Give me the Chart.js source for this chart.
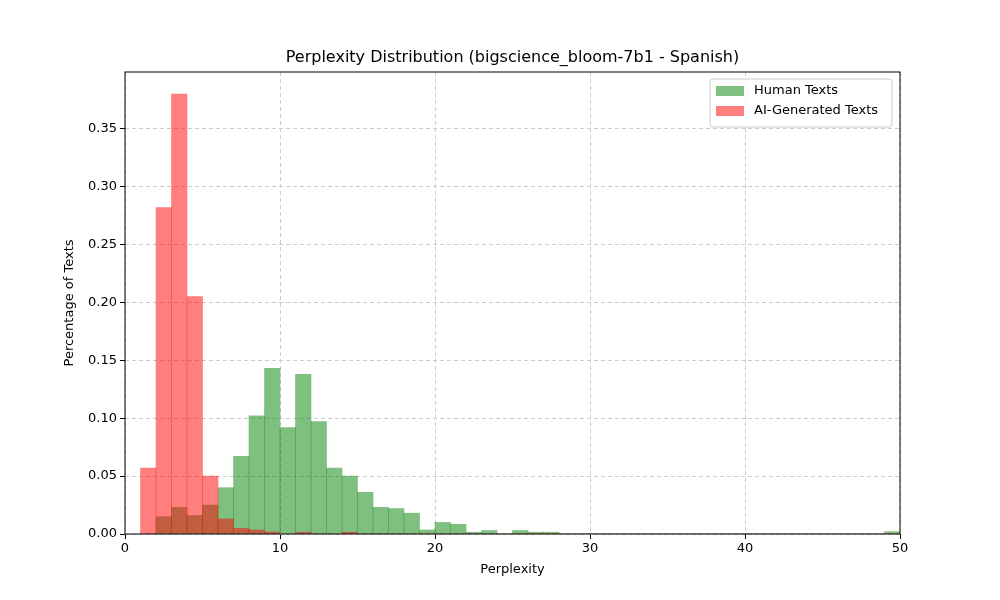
<!DOCTYPE html>
<html>
<head>
<meta charset="utf-8">
<script src="https://cdn.jsdelivr.net/npm/chart.js@4"></script>
<style>
	body { margin: 0; background: #fff; }
	#wrap { width: 1000px; height: 600px; }
</style>
</head>
<body>
<div id="wrap"><canvas id="chart"></canvas></div>
<script>
// bin left edges 1..49, width 1
const binStarts = Array.from({ length: 49 }, (_, i) => i + 1);

const humanValues = [
	0, 0.015, 0.023, 0.016, 0.025, 0.040, 0.067, 0.102, 0.143, 0.092,
	0.138, 0.097, 0.057, 0.050, 0.036, 0.023, 0.022, 0.018, 0.0035, 0.010,
	0.0084, 0.0015, 0.003, 0, 0.003, 0.0015, 0.0015, 0, 0, 0,
	0, 0, 0, 0, 0, 0, 0, 0, 0, 0,
	0, 0, 0, 0, 0, 0, 0, 0, 0.002,
];

const aiValues = [
	0.057, 0.282, 0.380, 0.205, 0.050, 0.013, 0.005, 0.0035, 0.0017, 0,
	0.0015, 0, 0, 0.0015, 0, 0, 0, 0, 0, 0,
	0, 0, 0, 0, 0, 0, 0, 0, 0, 0,
	0, 0, 0, 0, 0, 0, 0, 0, 0, 0,
	0, 0, 0, 0, 0, 0, 0, 0, 0,
];

const yTicks = [0, 0.05, 0.1, 0.15, 0.2, 0.25, 0.3, 0.35];
const xTicks = [0, 10, 20, 30, 40, 50];

const toPoints = (values) =>
	values.map((v, i) => ({ x: binStarts[i] + 0.5, y: v }));

const FONT = "'DejaVu Sans', sans-serif";

const framePlugin = {
	id: "frame",
	afterDraw(chart) {
		const { ctx, chartArea: a } = chart;
		ctx.save();
		ctx.strokeStyle = "#000";
		ctx.lineWidth = 1;
		ctx.strokeRect(a.left, a.top, a.right - a.left, a.bottom - a.top);

		// title
		ctx.fillStyle = "#000";
		ctx.font = `16px ${FONT}`;
		ctx.textAlign = "center";
		ctx.textBaseline = "middle";
		ctx.fillText(
			"Perplexity Distribution (bigscience_bloom-7b1 - Spanish)",
			(a.left + a.right) / 2,
			58
		);

		// legend inside top right
		const items = chart.data.datasets;
		ctx.font = `13px ${FONT}`;
		const w = 182, h = 48;
		const x = a.right - 8 - w, y = a.top + 7;
		ctx.fillStyle = "rgba(255,255,255,0.8)";
		ctx.strokeStyle = "#ccc";
		ctx.beginPath();
		ctx.roundRect(x, y, w, h, 3);
		ctx.fill();
		ctx.stroke();
		items.forEach((ds, i) => {
			const ry = y + 12 + i * 20;
			ctx.fillStyle = ds.backgroundColor;
			ctx.fillRect(x + 6, ry - 5, 28, 10);
			ctx.fillStyle = "#000";
			ctx.textAlign = "left";
			ctx.fillText(ds.label, x + 44, ry);
		});
		ctx.restore();
	},
};

new Chart(document.getElementById("chart"), {
	type: "bar",
	data: {
		datasets: [
			{
				label: "Human Texts",
				data: toPoints(humanValues),
				backgroundColor: "rgba(0,128,0,0.5)",
				borderWidth: 0,
				barPercentage: 1,
				categoryPercentage: 1,
				grouped: false,
				order: 2,
			},
			{
				label: "AI-Generated Texts",
				data: toPoints(aiValues),
				backgroundColor: "rgba(255,0,0,0.5)",
				borderWidth: 0,
				barPercentage: 1,
				categoryPercentage: 1,
				grouped: false,
				order: 1,
			},
		],
	},
	options: {
		responsive: true,
		maintainAspectRatio: false,
		animation: false,
		layout: { padding: { top: 72, right: 100, left: 58, bottom: 21 } },
		plugins: {
			legend: { display: false },
			tooltip: { enabled: false },
		},
		scales: {
			x: {
				type: "linear",
				min: 0,
				max: 50,
				offset: false,
				afterBuildTicks: (s) => { s.ticks = xTicks.map((v) => ({ value: v })); },
				afterFit: (s) => { s.height = 45; },
				grid: { color: "#ccc", tickColor: "#000", tickLength: 5, offset: false },
				border: { display: false, dash: [4, 3] },
				ticks: { color: "#000", font: { family: FONT, size: 13 }, padding: 2 },
				title: { display: true, text: "Perplexity", color: "#000", font: { family: FONT, size: 13 }, padding: 2 },
			},
			y: {
				min: 0,
				max: 0.399,
				afterBuildTicks: (s) => { s.ticks = yTicks.map((v) => ({ value: v })); },
				afterFit: (s) => { s.width = 67; },
				grid: { color: "#ccc", tickColor: "#000", tickLength: 5 },
				border: { display: false, dash: [4, 3] },
				ticks: {
					color: "#000",
					font: { family: FONT, size: 13 },
					padding: 3,
					callback: (v) => v.toFixed(2),
				},
				title: { display: true, text: "Percentage of Texts", color: "#000", font: { family: FONT, size: 13 }, padding: 4 },
			},
		},
	},
	plugins: [framePlugin],
});
</script>
</body>
</html>
